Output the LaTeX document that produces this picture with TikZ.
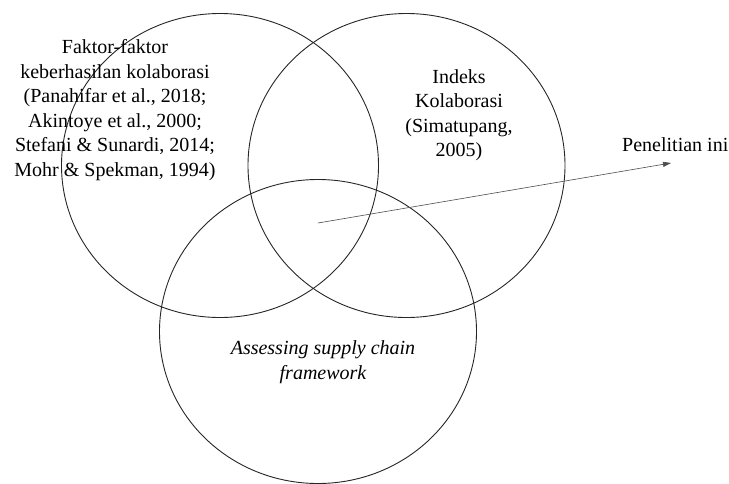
\documentclass[tikz,border=0pt]{standalone}
\usepackage{fontspec}
\setmainfont{Liberation Serif}
\usetikzlibrary{shapes.geometric,arrows.meta}
\begin{document}
\begin{tikzpicture}[x=1pt,y=-1pt,
  setcircle/.style={ellipse, draw=black!85, line width=0.9pt,
    minimum width=317pt, minimum height=304pt, inner sep=0pt},
  label/.style={align=center, font=\fontsize{20}{24.5}\selectfont, inner sep=0pt},
  pointer/.style={draw=black!70, line width=0.6pt,
    -{Stealth[length=8pt,width=5pt,inset=0pt]}}]
  \useasboundingbox (0,0) rectangle (729,483);
  % the three overlapping sets
  \node[setcircle] (left)   at (220,165.5) {};
  \node[setcircle] (right)  at (406.5,165.5) {};
  \node[setcircle] (bottom) at (318,331.5) {};
  % set labels
  \node[label] (ltext) at (115,110) {Faktor-faktor\\keberhasilan kolaborasi\\(Panahifar et al., 2018;\\Akintoye et al., 2000;\\Stefani \& Sunardi, 2014;\\Mohr \& Spekman, 1994)};
  \node[label] (rtext) at (459,115) {Indeks\\Kolaborasi\\(Simatupang,\\2005)};
  \node[label, font=\fontsize{20}{24.5}\selectfont\itshape] (btext) at (323,362) {Assessing supply chain\\framework};
  % this study sits in the common intersection
  \node[label, anchor=west] (pen) at (622,145) {Penelitian ini};
  \coordinate (core) at (318,223);
  \coordinate (tip) at (671,163);
  \draw[pointer] (core) -- (tip);
\end{tikzpicture}
\end{document}
